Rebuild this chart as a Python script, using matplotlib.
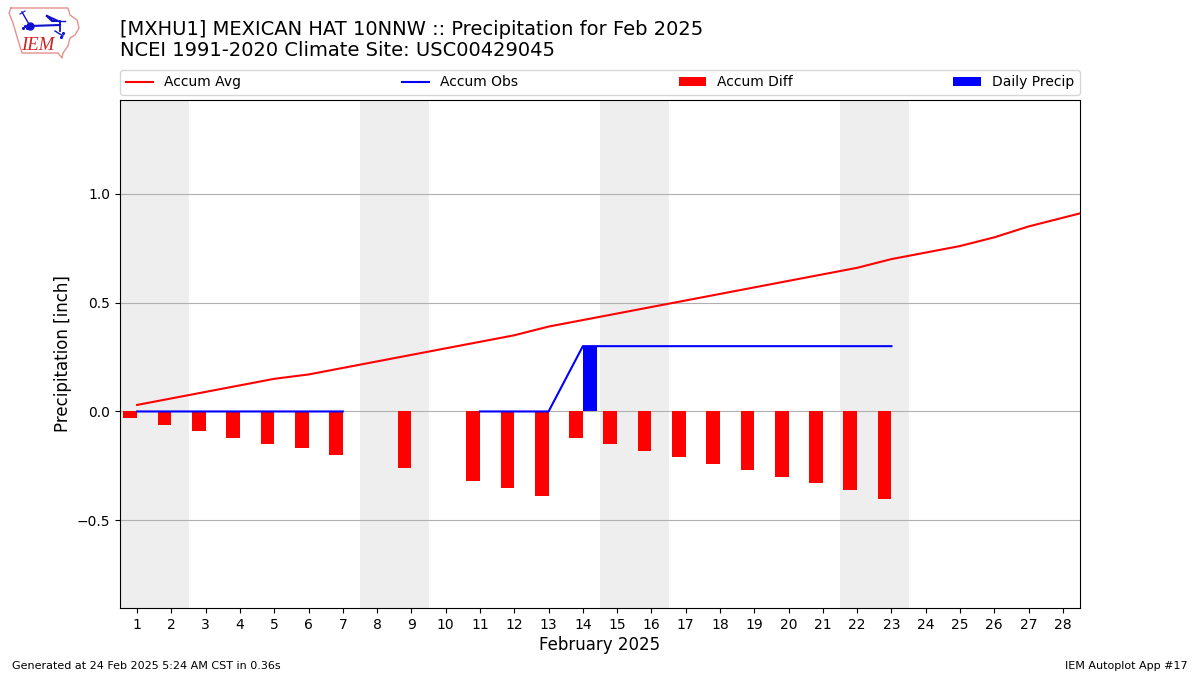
import numpy as np
import matplotlib
matplotlib.use("Agg")
import matplotlib.pyplot as plt

days = list(range(1, 30))
accum_avg = [0.03, 0.06, 0.09, 0.12, 0.15, 0.17, 0.20, 0.23, 0.26, 0.29, 0.32, 0.35, 0.39, 0.42,
             0.45, 0.48, 0.51, 0.54, 0.57, 0.60, 0.63, 0.66, 0.70, 0.73, 0.76, 0.80, 0.85, 0.89, 0.93]
obs_days = list(range(1, 24))
accum_obs = [0, 0, 0, 0, 0, 0, 0, np.nan, 0, np.nan, 0, 0, 0, 0.30, 0.30, 0.30, 0.30, 0.30, 0.30,
             0.30, 0.30, 0.30, 0.30]
accum_diff = [-0.03, -0.06, -0.09, -0.12, -0.15, -0.17, -0.20, np.nan, -0.26, np.nan, -0.32, -0.35,
              -0.39, -0.12, -0.15, -0.18, -0.21, -0.24, -0.27, -0.30, -0.33, -0.36, -0.40]
daily_precip = [0, 0, 0, 0, 0, 0, 0, np.nan, 0, np.nan, 0, 0, 0, 0.30, 0, 0, 0, 0, 0, 0, 0, 0, 0]
weekends = [(0.5, 2.5), (7.5, 9.5), (14.5, 16.5), (21.5, 23.5)]
tick_days = list(range(1, 29))

W, H = 1200, 675
fig = plt.figure(figsize=(12, 6.75), dpi=100)
ax = fig.add_axes([120 / W, 1 - 608 / H, 960 / W, 508 / H])

for a, b in weekends:
    ax.axvspan(a, b, color="#eeeeee", lw=0, zorder=0)
ax.plot(days, accum_avg, color="red", lw=1.5, label="Accum Avg", zorder=3)
ax.plot(obs_days, accum_obs, color="blue", lw=1.5, label="Accum Obs", zorder=3)
ax.bar(obs_days, accum_diff, width=-0.4, align="edge", color="red", label="Accum Diff", zorder=2)
ax.bar(obs_days, daily_precip, width=0.4, align="edge", color="blue", label="Daily Precip", zorder=2)

ax.set_xlim(0.5, 28.5)
ax.set_ylim(-0.903, 1.431)
ax.set_xticks(tick_days)
ax.set_yticks([-0.5, 0, 0.5, 1.0])
ax.set_yticklabels(["\u22120.5", "0.0", "0.5", "1.0"])
ax.grid(axis="y", color="#b0b0b0", lw=0.8, zorder=1)
ax.set_axisbelow(True)
ax.set_xlabel("February 2025", fontsize=12, labelpad=2.8)
ax.set_ylabel("Precipitation [inch]", fontsize=12, labelpad=3.2)
ax.legend(loc="lower left", bbox_to_anchor=(0, 1 + 5 / 508, 1, 0.05), ncol=4, mode="expand",
          borderaxespad=0, fontsize=10)

fig.text(120 / W, 1 - 29.5 / H, "[MXHU1] MEXICAN HAT 10NNW :: Precipitation for Feb 2025",
         fontsize=14, va="center", ha="left")
fig.text(120 / W, 1 - 51 / H, "NCEI 1991-2020 Climate Site: USC00429045",
         fontsize=14, va="center", ha="left")
fig.text(12 / W, 1 - 666 / H, "Generated at 24 Feb 2025 5:24 AM CST in 0.36s",
         fontsize=8, va="center", ha="left")
fig.text(1188 / W, 1 - 666 / H, "IEM Autoplot App #17", fontsize=8, va="center", ha="right")

# IEM logo, drawn in pixel coordinates of the figure
logo = fig.add_axes([0, 1 - 70 / H, 90 / W, 70 / H])
logo.set_xlim(0, 90)
logo.set_ylim(70, 0)
logo.axis("off")
logo.patch.set_alpha(0)
ox = [11, 68, 70, 77, 79, 75, 70, 68, 63, 62, 58, 22, 18, 13, 9, 11]
oy = [8, 8, 15, 20, 28, 35, 38, 46, 53, 58, 53, 53, 40, 23, 13, 8]
logo.plot(ox, oy, color="#e89090", lw=1.0)
logo.plot([30, 60], [26, 25], color="#1010d0", lw=1.5)
logo.plot([60, 60], [21, 31], color="#1010d0", lw=1.3)
logo.plot([47, 58, 52, 47], [16, 21, 21, 16], color="#1010d0", lw=1.5)
logo.plot([58, 65], [21, 21], color="#1010d0", lw=1.0)
logo.plot([55, 63], [31, 36], color="#1010d0", lw=1.0)
logo.plot([30], [26], "o", color="#1010d0", ms=5)
logo.plot([22, 26, 30], [12, 19, 26], color="#1010d0", lw=1.0)
logo.plot([20, 25], [14, 11], color="#1010d0", lw=0.8)
logo.plot([23, 25, 27, 61, 63], [28, 26, 28, 37, 33], ".", color="#1010d0", ms=2.5)
logo.text(21, 45, "IEM", color="#d02020", fontsize=13.5, family="Liberation Serif",
          style="italic", va="center", ha="left")

fig.savefig("out.png", dpi=100)
